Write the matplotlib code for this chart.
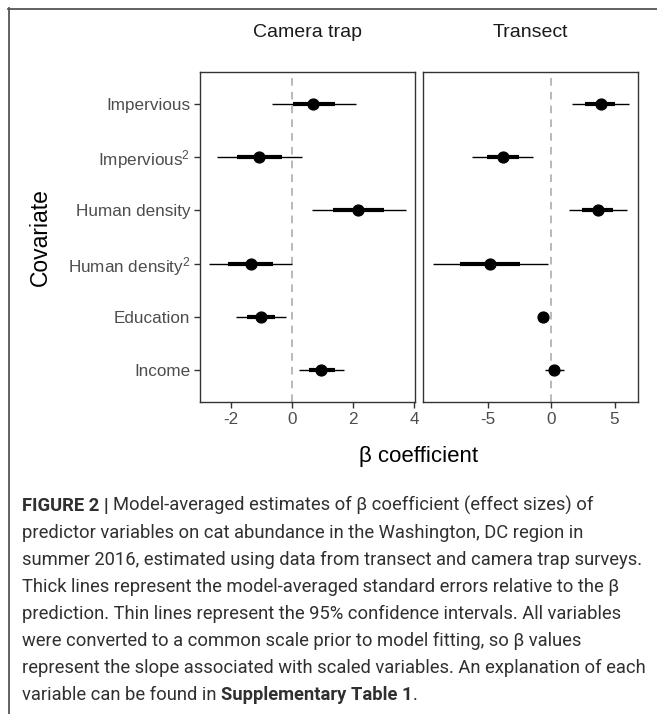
import numpy as np
import matplotlib
matplotlib.use("Agg")
import matplotlib.pyplot as plt
from matplotlib.lines import Line2D

plt.rcParams["font.family"] = ["Liberation Sans", "DejaVu Sans"]
plt.rcParams["mathtext.fontset"] = "custom"
plt.rcParams["mathtext.rm"] = "Liberation Sans"
plt.rcParams["mathtext.it"] = "Liberation Sans"

# =====================
# data
# =====================
covariates = ["Impervious", "Impervious$^{2}$", "Human density",
              "Human density$^{2}$", "Education", "Income"]

cam_est = [0.7, -1.1, 2.17, -1.35, -1.02, 0.95]
cam_se_lo = [0.03, -1.8, 1.35, -2.1, -1.48, 0.56]
cam_se_hi = [1.4, -0.34, 3.0, -0.62, -0.56, 1.4]
cam_ci_lo = [-0.66, -2.46, 0.64, -2.72, -1.84, 0.23]
cam_ci_hi = [2.1, 0.32, 3.73, 0.0, -0.2, 1.7]

tra_est = [3.9, -3.8, 3.7, -4.8, -0.65, 0.25]
tra_se_lo = [2.7, -5.05, 2.45, -7.2, -0.85, -0.15]
tra_se_hi = [5.05, -2.5, 4.9, -2.45, -0.45, 0.7]
tra_ci_lo = [1.63, -6.2, 1.42, -9.3, -1.0, -0.47]
tra_ci_hi = [6.15, -1.4, 6.0, -0.27, -0.25, 1.05]

panels = ["Camera trap", "Transect"]
cam_ticks = [-2, 0, 2, 4]
tra_ticks = [-5, 0, 5]

caption_lines = [
    "Model-averaged estimates of \u03b2 coefficient (effect sizes) of",
    "predictor variables on cat abundance in the Washington, DC region in",
    "summer 2016, estimated using data from transect and camera trap surveys.",
    "Thick lines represent the model-averaged standard errors relative to the \u03b2",
    "prediction. Thin lines represent the 95% confidence intervals. All variables",
    "were converted to a common scale prior to model fitting, so \u03b2 values",
    "represent the slope associated with scaled variables. An explanation of each",
    "variable can be found in ",
]

W, H = 657, 714
fig = plt.figure(figsize=(W / 100, H / 100), dpi=100)

def px_axes(x0, y0, x1, y1):
    return fig.add_axes([x0 / W, 1 - y1 / H, (x1 - x0) / W, (y1 - y0) / H])

ax1 = px_axes(200, 72, 415, 402)
ax2 = px_axes(423, 72, 638, 402)

ypos = np.arange(len(covariates), 0, -1)
grey_txt = "#4D4D4D"

def draw_panel(ax, est, se_lo, se_hi, ci_lo, ci_hi, xlim, ticks, title):
    ax.axvline(0, color="#A6A6A6", lw=1.1, ls=(0, (5, 4)), zorder=1)
    ax.hlines(ypos, ci_lo, ci_hi, color="black", lw=1.0, zorder=2)
    ax.hlines(ypos, se_lo, se_hi, color="black", lw=3.0, zorder=3)
    ax.plot(est, ypos, "o", color="black", ms=7.8, zorder=4)
    ax.set_xlim(*xlim)
    ax.set_ylim(0.4, 6.6)
    ax.set_xticks(ticks)
    ax.set_xticklabels([str(t) for t in ticks])
    for s in ax.spines.values():
        s.set_color("#333333")
        s.set_linewidth(1.0)
    ax.tick_params(axis="both", colors="#333333", labelcolor=grey_txt,
                   labelsize=12.3, length=4, width=1.0, pad=3)
    ax.set_title(title, fontsize=14, pad=25, color="#1A1A1A")

draw_panel(ax1, cam_est, cam_se_lo, cam_se_hi, cam_ci_lo, cam_ci_hi,
           (-3.02, 4.03), cam_ticks, panels[0])
draw_panel(ax2, tra_est, tra_se_lo, tra_se_hi, tra_ci_lo, tra_ci_hi,
           (-10.08, 6.85), tra_ticks, panels[1])

ax1.set_yticks(ypos)
ax1.set_yticklabels(covariates)
ax2.set_yticks([])

fig.text(40 / W, 1 - 237 / H, "Covariate", rotation=90, fontsize=16.5,
         ha="center", va="center", color="black")
fig.text(419 / W, 1 - 457 / H, "\u03b2 coefficient", fontsize=16,
         ha="center", va="center", color="black")

# frame round the figure
fig.add_artist(Line2D([8 / W, 1], [1 - 8.5 / H, 1 - 8.5 / H], color="#555555", lw=1.3))
fig.add_artist(Line2D([8.5 / W, 8.5 / W], [0, 1 - 8 / H], color="#555555", lw=1.3))

# caption
cap_font = ["Roboto", "DejaVu Sans"]
cap_kw = dict(fontsize=13.2, color="#303030", va="baseline", family=cap_font)
x0 = 22 / W
line_gap = 27
base_y = 511

def after(txt):
    fig.canvas.draw()
    return txt.get_window_extent().x1 / W

t = fig.text(x0, 1 - base_y / H, "FIGURE 2 | ", fontweight="bold", **cap_kw)
fig.text(after(t), 1 - base_y / H, caption_lines[0], fontweight="normal", **cap_kw)
for i, line in enumerate(caption_lines[1:], start=1):
    tt = fig.text(x0, 1 - (base_y + i * line_gap) / H, line,
                  fontweight="normal", **cap_kw)
yl = 1 - (base_y + 7 * line_gap) / H
b = fig.text(after(tt), yl, "Supplementary Table 1", fontweight="bold", **cap_kw)
fig.text(after(b), yl, ".", fontweight="normal", **cap_kw)

fig.savefig("out.png", dpi=100)
